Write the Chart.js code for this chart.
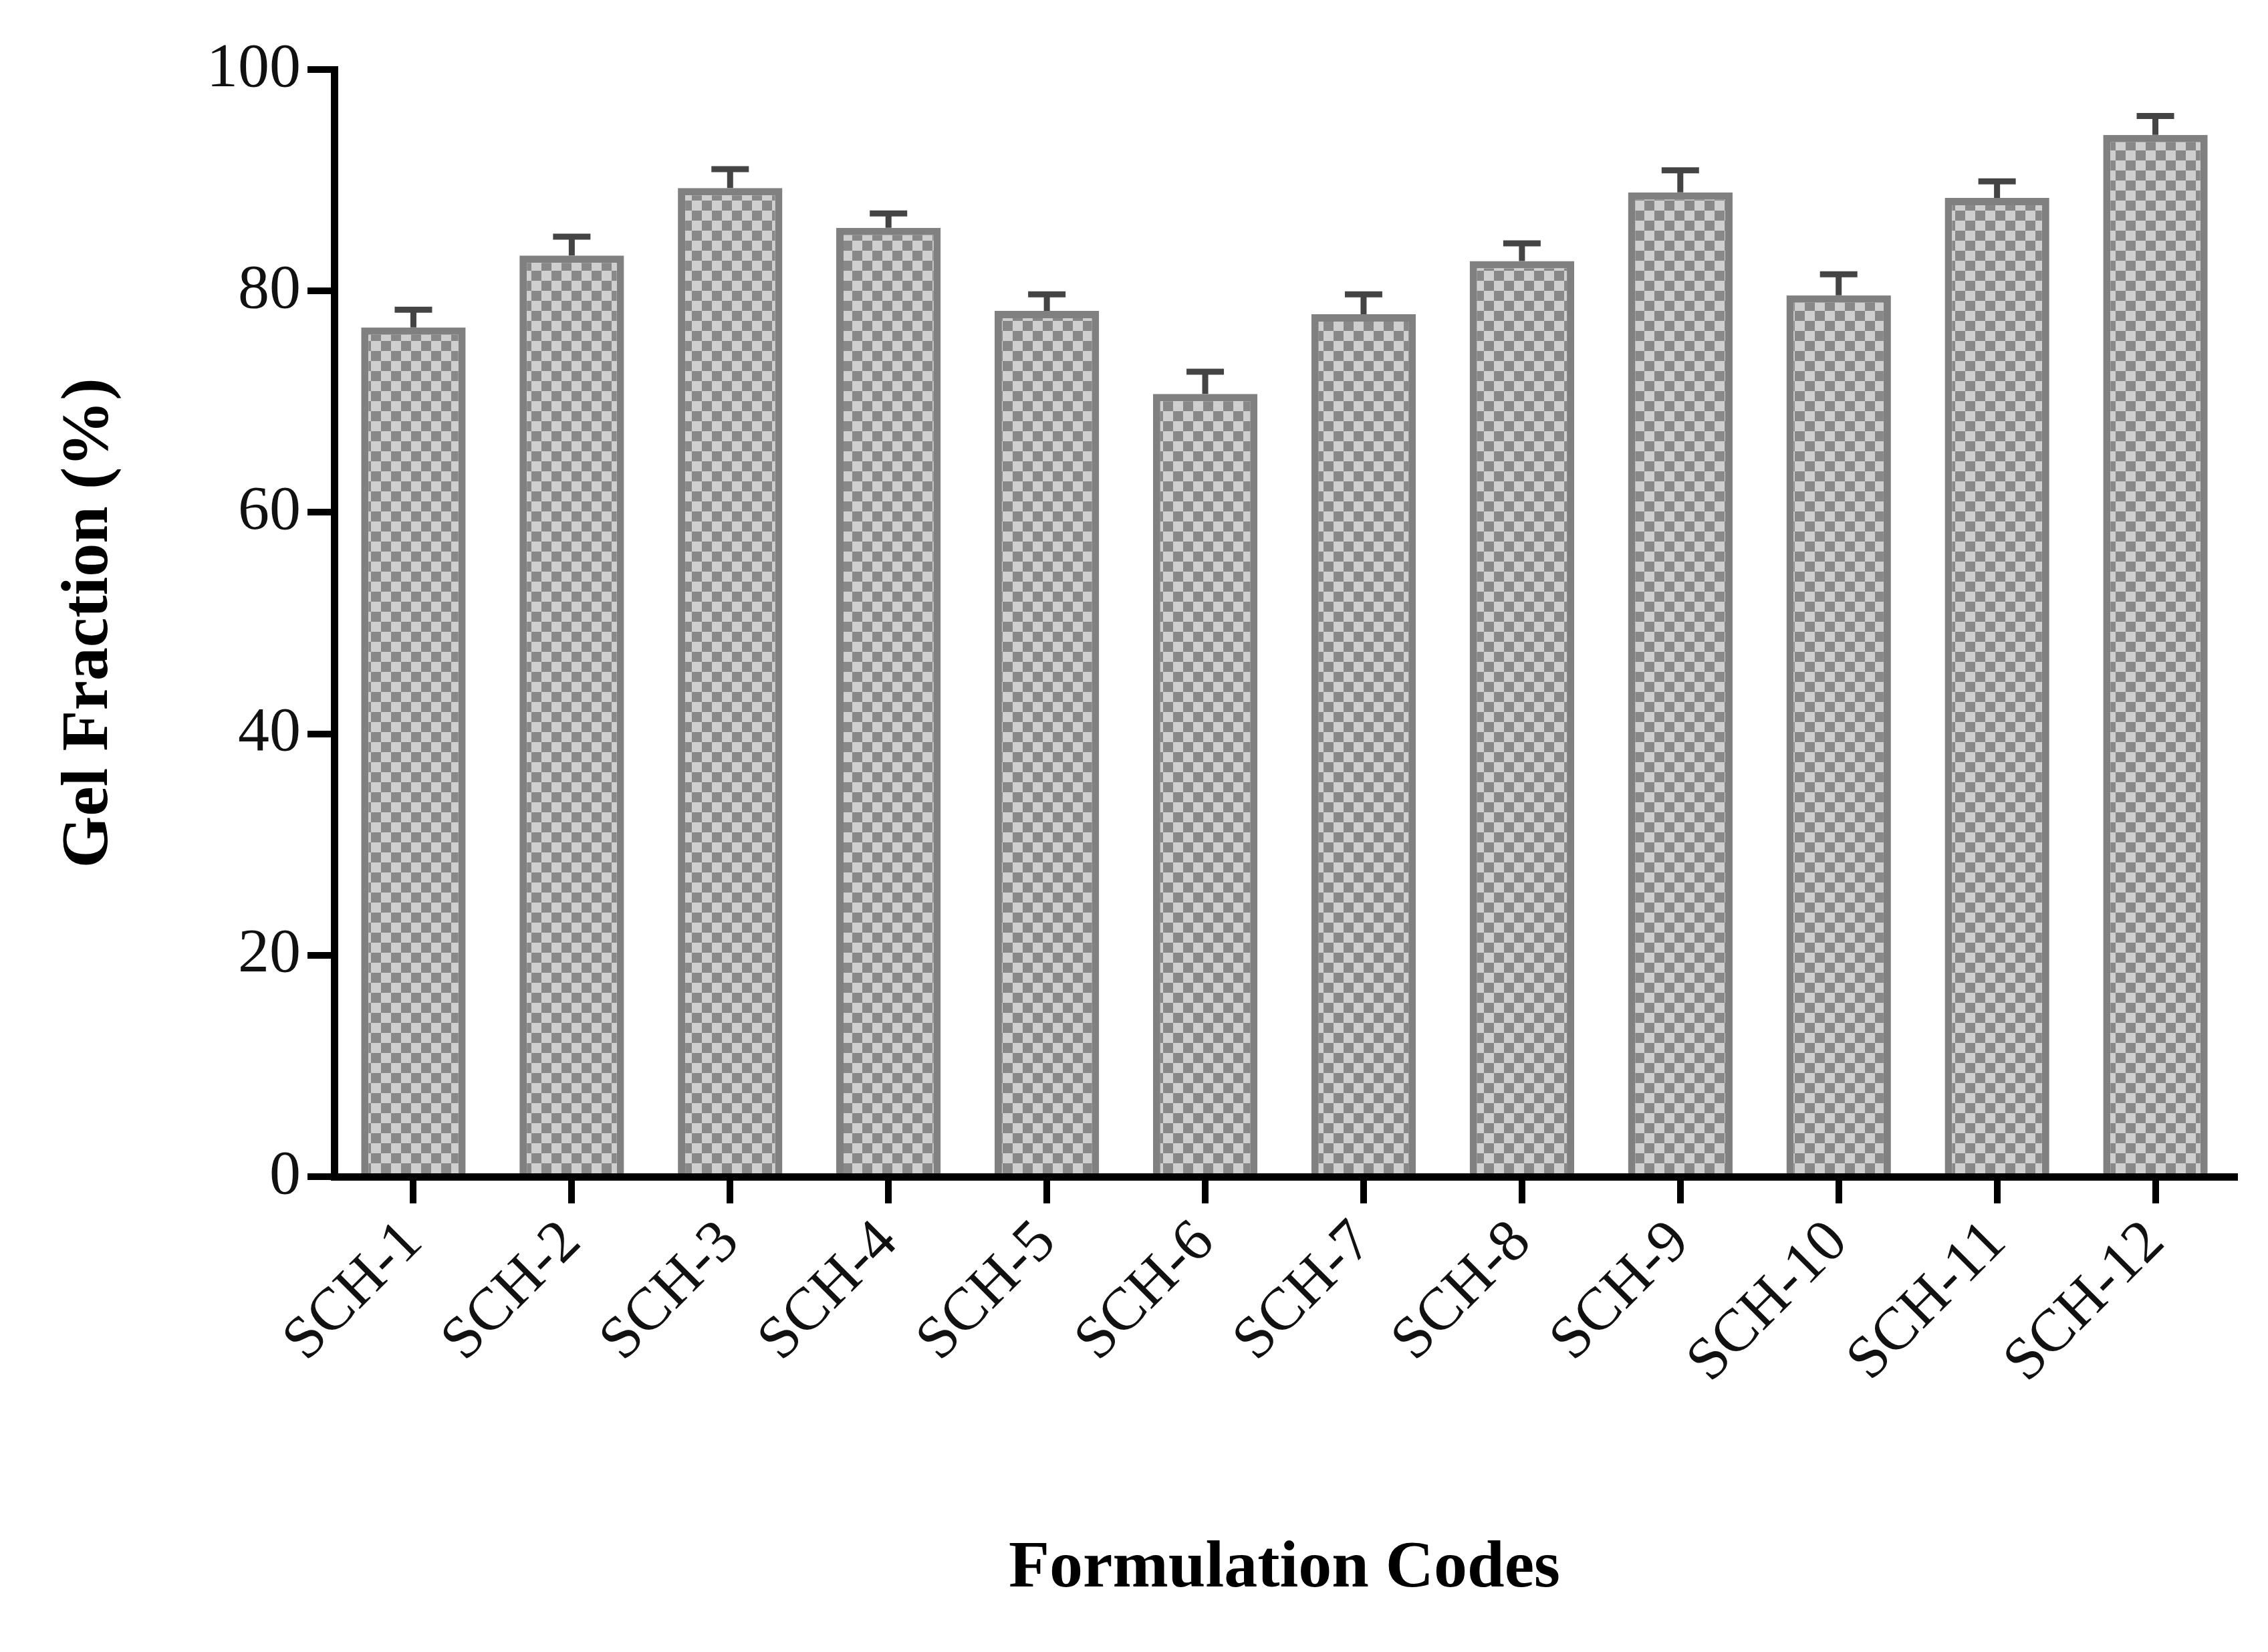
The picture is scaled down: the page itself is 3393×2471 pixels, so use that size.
<!DOCTYPE html>
<html>
<head>
<meta charset="utf-8">
<script src="https://cdn.jsdelivr.net/npm/chart.js@4"></script>
<style>
  html, body { margin: 0; padding: 0; background: #fff; }
  #wrap { width: 3393px; height: 2471px; }
</style>
</head>
<body>
<div id="wrap"><canvas id="gelChart" width="3393" height="2471"></canvas></div>
<script>
const codes = ["SCH-1", "SCH-2", "SCH-3", "SCH-4", "SCH-5", "SCH-6",
  "SCH-7", "SCH-8", "SCH-9", "SCH-10", "SCH-11", "SCH-12"];
const gelFraction = [76.7, 83.2, 89.3, 85.7, 78.2, 70.7, 77.9, 82.7, 88.9, 79.6, 88.4, 94.1];
const gelError = [1.6, 1.7, 1.7, 1.3, 1.5, 2.0, 1.8, 1.6, 2.0, 1.9, 1.5, 1.7];
const yTicks = [0, 20, 40, 60, 80, 100];

// checkered fill like the original print
function checkerPattern() {
  const c = document.createElement("canvas");
  const s = 15;
  c.width = c.height = s * 2;
  const g = c.getContext("2d");
  g.fillStyle = "#cfcfcf";
  g.fillRect(0, 0, s * 2, s * 2);
  g.fillStyle = "#888";
  g.fillRect(0, 0, s, s);
  g.fillRect(s, s, s, s);
  return g.createPattern(c, "repeat");
}

const errorBars = {
  id: "errorBars",
  afterDatasetsDraw(chart) {
    const ctx = chart.ctx;
    const y = chart.scales.y;
    const meta = chart.getDatasetMeta(0);
    ctx.save();
    ctx.strokeStyle = "#444";
    ctx.lineWidth = 9;
    meta.data.forEach((bar, i) => {
      const top = y.getPixelForValue(gelFraction[i] + gelError[i]);
      const base = y.getPixelForValue(gelFraction[i]);
      ctx.beginPath();
      ctx.moveTo(bar.x, base);
      ctx.lineTo(bar.x, top);
      ctx.moveTo(bar.x - 28, top);
      ctx.lineTo(bar.x + 28, top);
      ctx.stroke();
    });
    ctx.restore();
  },
};

const font = "'Liberation Serif', 'DejaVu Serif', serif";

new Chart(document.getElementById("gelChart").getContext("2d"), {
  type: "bar",
  data: {
    labels: codes,
    datasets: [{
      data: gelFraction,
      backgroundColor: checkerPattern(),
      borderColor: "#808080",
      borderWidth: 11,
      borderSkipped: "bottom",
      categoryPercentage: 1,
      barPercentage: 0.66,
    }],
  },
  options: {
    responsive: false,
    animation: false,
    layout: { padding: { left: 70, right: 50, top: 104, bottom: 60 } },
    plugins: { legend: { display: false }, tooltip: { enabled: false } },
    scales: {
      y: {
        min: 0,
        max: 100,
        afterBuildTicks: (s) => { s.ticks = yTicks.map((v) => ({ value: v })); },
        afterFit: (s) => { s.width = 430; },
        border: { color: "#000", width: 11 },
        grid: { drawOnChartArea: false, color: "#000", tickLength: 40, lineWidth: 10 },
        ticks: { color: "#111", font: { family: font, size: 94 }, padding: 10 },
        title: {
          display: true,
          text: "Gel Fraction (%)",
          color: "#000",
          font: { family: font, size: 100, weight: "bold" },
          padding: { bottom: 20 },
        },
      },
      x: {
        border: { color: "#000", width: 11 },
        grid: { drawOnChartArea: false, offset: false, color: "#000", tickLength: 40, lineWidth: 10 },
        ticks: { color: "#111", font: { family: font, size: 90 }, maxRotation: 45, minRotation: 45, padding: 6 },
        title: {
          display: true,
          text: "Formulation Codes",
          color: "#000",
          font: { family: font, size: 100, weight: "bold" },
          padding: { top: 190 },
        },
      },
    },
  },
  plugins: [errorBars],
});
</script>
</body>
</html>
